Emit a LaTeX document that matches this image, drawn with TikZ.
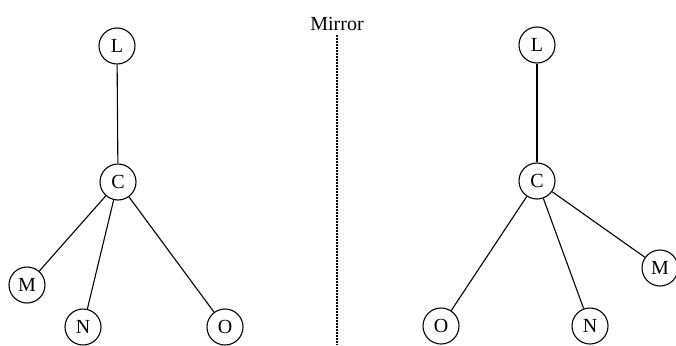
\documentclass[tikz,border=0pt]{standalone}
\usepackage{fontspec}
\setmainfont{Liberation Serif}
\begin{document}
\begin{tikzpicture}[x=1pt,y=-1pt,
  atom/.style={circle,draw,line width=1.1pt,minimum size=36pt,inner sep=0pt,font=\fontsize{20}{22}\selectfont},
  bond/.style={line width=1.1pt},
  mirrorline/.style={line width=1.2pt,dash pattern=on 1.5pt off 1.5pt}]
\useasboundingbox (0,0) rectangle (676,345);
% left molecule
\node[atom] (L1) at (117,46) {L};
\node[atom] (C1) at (118,182) {C};
\node[atom] (M1) at (27,285) {M};
\node[atom] (N1) at (83,327) {N};
\node[atom] (O1) at (225,327) {O};
\draw[bond] (L1) -- (C1);
\draw[bond] (C1) -- (M1);
\draw[bond] (C1) -- (N1);
\draw[bond] (C1) -- (O1);
% right molecule
\node[atom] (L2) at (537,45) {L};
\node[atom] (C2) at (537,181) {C};
\node[atom] (O2) at (441,326) {O};
\node[atom] (N2) at (590,326) {N};
\node[atom] (M2) at (660,268) {M};
\draw[bond] (L2) -- (C2);
\draw[bond] (C2) -- (O2);
\draw[bond] (C2) -- (N2);
\draw[bond] (C2) -- (M2);
% mirror
\node[font=\fontsize{20}{22}\selectfont] (mir) at (337,24) {Mirror};
\coordinate (mbot) at (337,345);
\draw[mirrorline] (mir.south) ++(0,1) -- (mbot);
\end{tikzpicture}
\end{document}
